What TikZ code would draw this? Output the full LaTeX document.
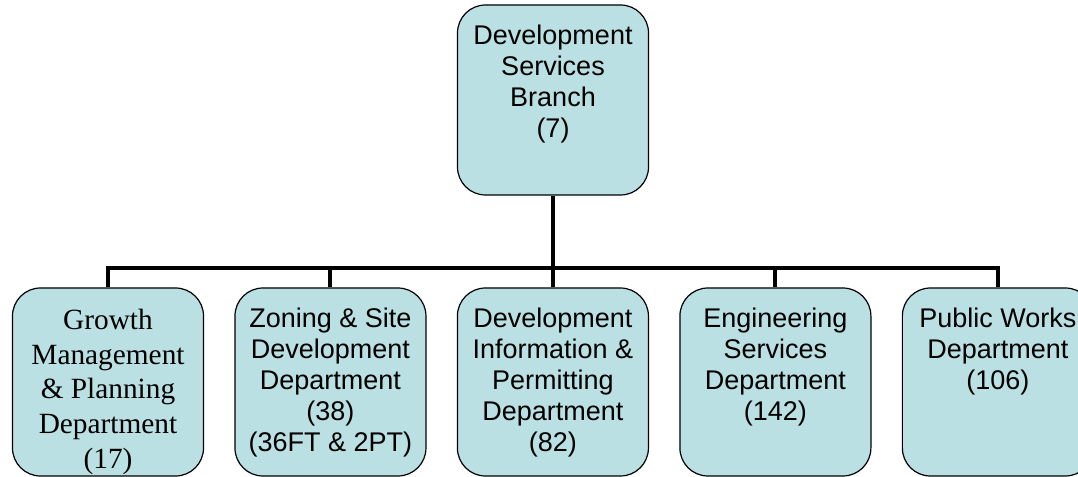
\documentclass[tikz,border=0pt]{standalone}
\usepackage{fontspec}
\setsansfont{Liberation Sans}
\newfontfamily\serifunit{Liberation Serif}
\usetikzlibrary{positioning}
\definecolor{unitfill}{HTML}{BBE0E3}

\begin{document}
\begin{tikzpicture}[x=0.75pt, y=-0.75pt,
  unit/.style={draw, rounded corners=21pt, line width=0.9pt, minimum width=143.25pt, minimum height=141pt, fill=unitfill, inner sep=0pt},
  head/.style={unit, minimum height=142.5pt},
  caption/.style={anchor=north, inner sep=0pt, align=center, font=\sffamily\fontsize{20.25}{23.25}\selectfont},
  captionalt/.style={caption, font=\serifunit\fontsize{22}{26}\selectfont},
  link/.style={line width=3pt, black}
]
  \useasboundingbox (0,0) rectangle (1078,477);
  \clip (0,0) rectangle (1078,477);

  \node[head] (dsb) at (553,100) {};
  \node[unit] (gmp) at (108,382) {};
  \node[unit, right=22.7pt of gmp] (zsd) {};
  \node[unit, right=22.7pt of zsd] (dip) {};
  \node[unit, right=22.7pt of dip] (esd) {};
  \node[unit, right=22.7pt of esd] (pwd) {};

  \node[caption, below=15pt of dsb.north] (dsbtext) {Development\\Services\\Branch\\(7)};
  \node[captionalt, below=16pt of gmp.north] (gmptext) {Growth\\Management\\\& Planning\\Department\\(17)};
  \node[caption, below=15pt of zsd.north] (zsdtext) {Zoning \& Site\\Development\\Department\\(38)\\(36FT \& 2PT)};
  \node[caption, below=15pt of dip.north] (diptext) {Development\\Information \&\\Permitting\\Department\\(82)};
  \node[caption, below=15pt of esd.north] (esdtext) {Engineering\\Services\\Department\\(142)};
  \node[caption, below=15pt of pwd.north] (pwdtext) {Public Works\\Department\\(106)};

  \coordinate (bus) at (553,268);
  \draw[link] (dsb.south) -- (dsb.south |- bus);
  \draw[link] (gmp.north) |- (bus) -| (pwd.north);
  \foreach \dept in {zsd,dip,esd}
    \draw[link] (\dept.north) -- (\dept.north |- bus);
\end{tikzpicture}
\end{document}
